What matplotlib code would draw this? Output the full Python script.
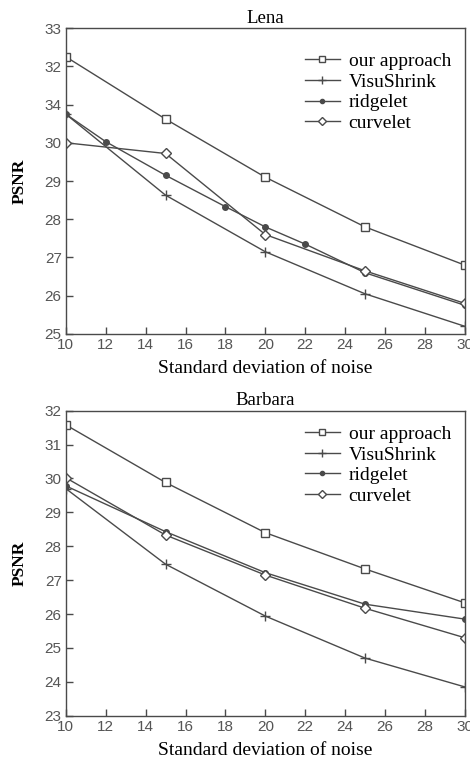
import matplotlib
matplotlib.use("Agg")
import matplotlib.pyplot as plt

# noise levels
x5 = [10, 15, 20, 25, 30]
x_ridge_lena = [10, 12, 15, 18, 20, 22, 25, 30]

# Lena
lena_ours = [32.25, 30.62, 29.1, 27.8, 26.8]
lena_visu = [30.75, 28.63, 27.15, 26.05, 25.2]
lena_ridge = [30.75, 30.03, 29.15, 28.33, 27.8, 27.35, 26.6, 25.75]
lena_curve = [30.0, 29.72, 27.6, 26.65, 25.8]
lena_yticks = [25, 26, 27, 28, 29, 30, 31, 32, 33]
lena_yticklabels = ['25', '26', '27', '28', '29', '30', '34', '32', '33']

# Barbara
barb_ours = [31.58, 29.88, 28.4, 27.33, 26.33]
barb_visu = [29.7, 27.47, 25.94, 24.7, 23.85]
barb_ridge = [29.78, 28.43, 27.22, 26.29, 25.85]
barb_curve = [30.02, 28.33, 27.15, 26.17, 25.3]
barb_yticks = [23, 24, 25, 26, 27, 28, 29, 30, 31, 32]

xticks = [10, 12, 14, 16, 18, 20, 22, 24, 26, 28, 30]
names = ['our approach', 'VisuShrink', 'ridgelet', 'curvelet']

lc = '#4a4a4a'
serif = 'Liberation Serif'
sans = 'Liberation Sans'

fig = plt.figure(figsize=(4.7, 7.59), dpi=100)
ax1 = fig.add_axes([0.140, 0.560, 0.849, 0.403])
ax2 = fig.add_axes([0.140, 0.057, 0.849, 0.402])


def draw(ax, xr, ours, visu, ridge, curve, title, yticks, ylabels, ylim, legy):
    kw = dict(color=lc, lw=1.0, mec=lc)
    ax.plot(x5, ours, marker='s', ms=6, mfc='white', label=names[0], **kw)
    ax.plot(x5, visu, marker='+', ms=7, label=names[1], **kw)
    ax.plot(xr, ridge, marker='o', ms=4, mfc=lc, label=names[2], **kw)
    ax.plot(x5, curve, marker='D', ms=5.5, mfc='white', label=names[3], **kw)
    ax.set_xlim(10, 30)
    ax.set_ylim(*ylim)
    ax.set_xticks(xticks)
    ax.set_xticklabels([str(t) for t in xticks], family=sans, fontsize=11, color='#555555')
    ax.set_yticks(yticks)
    ax.set_yticklabels(ylabels, family=sans, fontsize=11, color='#555555')
    ax.tick_params(direction='in', length=5, width=1, color=lc, pad=3)
    for s in ax.spines.values():
        s.set_color(lc)
        s.set_linewidth(1.0)
    ax.set_title(title, family=serif, fontsize=13.5, pad=4)
    ax.set_xlabel('Standard deviation of noise', family=serif, fontsize=14, labelpad=6)
    ax.set_ylabel('PSNR', family=serif, fontsize=12.5, fontweight='bold', labelpad=12)
    leg = ax.legend(loc='upper right', bbox_to_anchor=(0.985, legy), frameon=False,
                    prop={'family': serif, 'size': 14}, handlelength=1.8,
                    handletextpad=0.45, labelspacing=0.15, borderaxespad=0.0)
    for h in leg.get_lines():
        h.set_markersize(h.get_markersize() * 0.75)


draw(ax1, x_ridge_lena, lena_ours, lena_visu, lena_ridge, lena_curve, 'Lena',
     lena_yticks, lena_yticklabels, (25, 33), 0.945)
draw(ax2, x5, barb_ours, barb_visu, barb_ridge, barb_curve, 'Barbara',
     barb_yticks, [str(t) for t in barb_yticks], (23, 32), 0.977)

fig.savefig('out.png', dpi=100)
